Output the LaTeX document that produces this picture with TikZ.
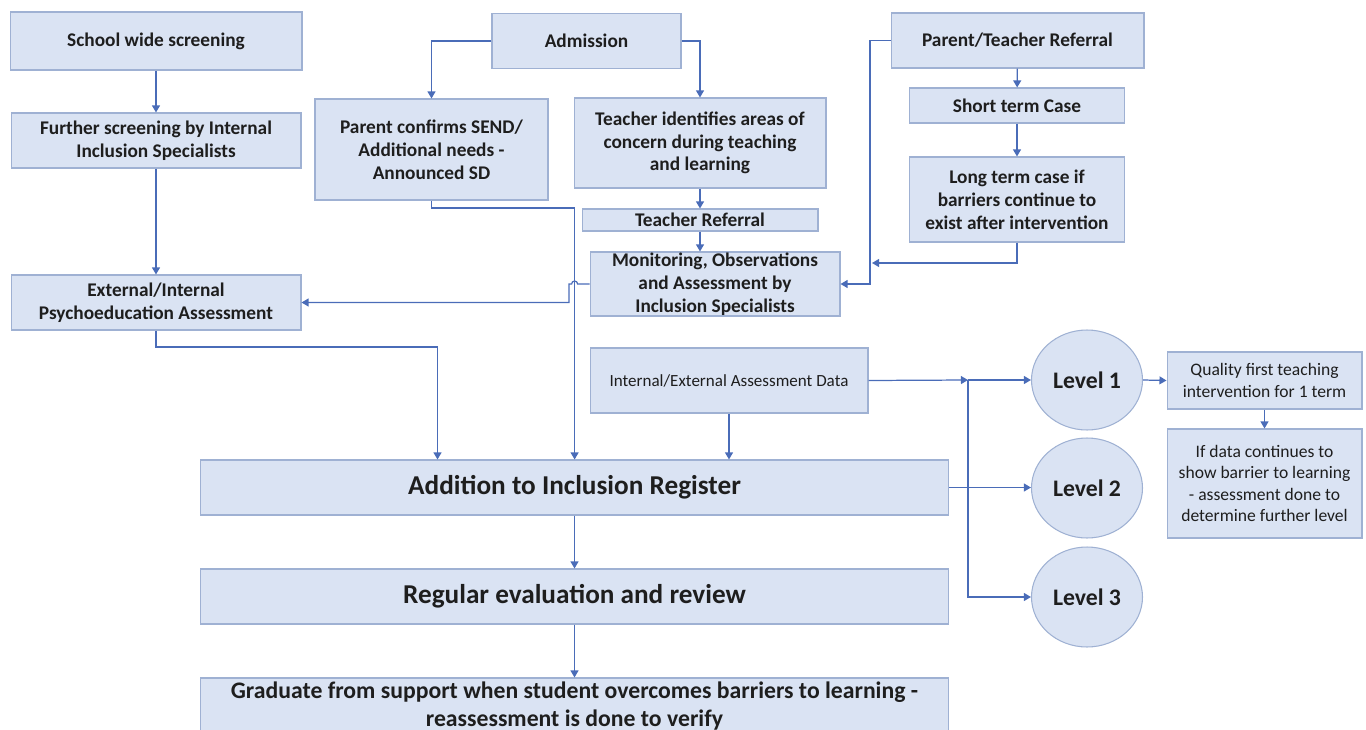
\documentclass[tikz,border=0pt]{standalone}
\usepackage{fontspec}
\setmainfont{Carlito}
\usetikzlibrary{shapes.geometric,arrows.meta}

\definecolor{boxfill}{HTML}{DAE3F3}
\definecolor{boxline}{HTML}{9FB1D3}
\definecolor{arrline}{HTML}{4A6CB8}
\definecolor{inktext}{HTML}{1E1E1E}

\tikzset{
  box/.style={draw=boxline, fill=boxfill, line width=0.6pt, align=center, text=inktext,
    inner sep=0pt, font=\bfseries\fontsize{11}{13}\selectfont},
  bigbox/.style={box, font=\bfseries\fontsize{15.5}{18}\selectfont},
  smallbox/.style={box, font=\fontsize{10}{12}\selectfont},
  lvlnode/.style={box, ellipse, minimum width=2.22cm, minimum height=2cm,
    font=\bfseries\fontsize{13.5}{16}\selectfont},
  flow/.style={draw=arrline, line width=0.7pt, -{Triangle[width=4.5pt,length=4pt]}},
  link/.style={draw=arrline, line width=0.7pt}
}

\begin{document}
\begin{tikzpicture}[x=0.02cm, y=-0.02cm]
    \clip (0,0) rectangle (1366,730);

    % left column
    \node[box, minimum width=5.84cm, minimum height=1.16cm] (school) at (156,41) {School wide screening};
    \node[box, minimum width=5.8cm, minimum height=1.1cm] (further) at (156,140.5) {Further screening by Internal\\Inclusion Specialists};
    \node[box, minimum width=5.8cm, minimum height=1.1cm] (psycho) at (156,302.5) {External/Internal\\Psychoeducation Assessment};

    % admission branch
    \node[box, minimum width=3.78cm, minimum height=1.1cm] (admission) at (586.5,41) {Admission};
    \node[box, minimum width=4.66cm, minimum height=2.02cm] (parent) at (431.5,149.5) {Parent confirms SEND/\\Additional needs -\\Announced SD};
    \node[box, minimum width=5.04cm, minimum height=1.8cm] (teacher) at (700,143) {Teacher identifies areas of\\concern during teaching\\and learning};
    \node[box, minimum width=4.72cm, minimum height=0.44cm] (tref) at (700,220) {Teacher Referral};
    \node[box, minimum width=5cm, minimum height=1.28cm] (mon) at (715,284) {Monitoring, Observations\\and Assessment by\\Inclusion Specialists};

    % referral branch
    \node[box, minimum width=5.06cm, minimum height=1.1cm] (ptref) at (1017.5,40.5) {Parent/Teacher Referral};
    \node[box, minimum width=4.3cm, minimum height=0.7cm] (short) at (1017,105.5) {Short term Case};
    \node[box, minimum width=4.3cm, minimum height=1.7cm] (long) at (1017,199.5) {Long term case if\\barriers continue to\\exist after intervention};

    % register and levels
    \node[smallbox, minimum width=5.56cm, minimum height=1.3cm, font=\fontsize{9.7}{11}\selectfont] (data) at (729,380.5) {Internal/External Assessment Data};
    \node[bigbox, minimum width=14.98cm, minimum height=1.1cm] (addreg) at (574.5,487.5) {Addition to Inclusion Register};
    \node[bigbox, minimum width=14.98cm, minimum height=1.1cm] (review) at (574.5,596.5) {Regular evaluation and review};
    \node[box, minimum width=14.98cm, minimum height=1.12cm, font=\bfseries\fontsize{13.5}{15.5}\selectfont] (grad) at (574.5,706) {Graduate from support when student overcomes barriers to learning -\\reassessment is done to verify};

    \node[lvlnode] (lvl1) at (1087,380) {Level 1};
    \node[lvlnode] (lvl2) at (1087,488) {Level 2};
    \node[lvlnode] (lvl3) at (1087,597) {Level 3};

    \node[smallbox, minimum width=3.9cm, minimum height=1.14cm] (quality) at (1264.5,380.5) {Quality first teaching\\intervention for 1 term};
    \node[smallbox, minimum width=3.9cm, minimum height=2.18cm] (ifdata) at (1264.5,483.5) {If data continues to\\show barrier to learning\\- assessment done to\\determine further level};

    \coordinate (bend1) at (574.6,208);
    \coordinate (bend2) at (437.5,347);
    \coordinate (rail) at (870,284);
    \coordinate (railhit) at (872,263);
    \coordinate (junc) at (968,380);

    % connectors
    \draw[flow] (school) -- (further);
    \draw[flow] (further) -- (psycho);
    \draw[flow] (admission.west) -| (parent.north);
    \draw[flow] (admission.east) -| (teacher.north);
    \draw[flow] (teacher) -- (tref);
    \draw[flow] (tref.south) -- (tref.south |- mon.north);
    \draw[flow] (parent.south) |- (bend1) -- (bend1 |- addreg.north);
    \draw[flow] (mon.west) -- (577.6,284) arc[start angle=0, end angle=180, radius=0.06cm] -- (569,284) -- (569,302.5) -- (psycho.east);
    \draw[flow] (ptref.west) -| (rail) -- (mon.east);
    \draw[flow] (ptref) -- (short);
    \draw[flow] (short) -- (long);
    \draw[flow] (long.south) |- (railhit);
    \draw[flow] (psycho.south) |- (bend2) -- (bend2 |- addreg.north);
    \draw[flow] (data.south) -- (data.south |- addreg.north);
    \draw[flow] (data.east) -- (junc);
    \draw[flow] (junc) -- (lvl1.west);
    \draw[flow] (junc) |- (lvl3.west);
    \draw[flow] (addreg.east) -- (addreg.east -| lvl2.west);
    \draw[flow] (lvl1.east) -- (quality.west);
    \draw[flow] (quality) -- (ifdata);
    \draw[flow] (addreg) -- (review);
    \draw[flow] (review) -- (grad);
\end{tikzpicture}
\end{document}
